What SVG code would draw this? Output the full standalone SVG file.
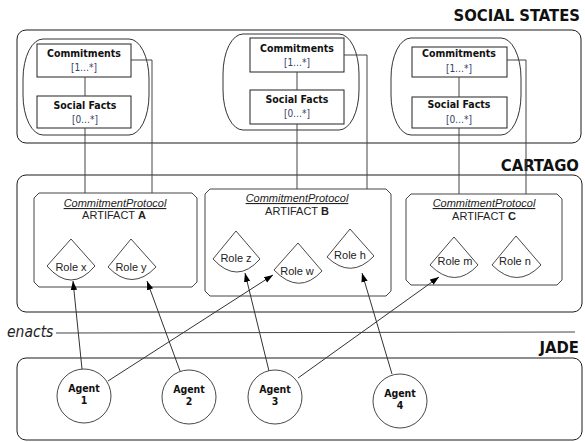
<svg xmlns="http://www.w3.org/2000/svg" width="585" height="442" viewBox="0 0 585 442">
<style>
.frame{fill:none;stroke:#1a1a1a;stroke-width:1}
.group{fill:#fff;stroke:#333;stroke-width:1}
.box{fill:#fff;stroke:#222;stroke-width:1}
.art{fill:#fff;stroke:#444;stroke-width:1}
.role{fill:#fff;stroke:#333;stroke-width:0.9}
.agent{fill:#fff;stroke:#333;stroke-width:0.9}
.link{fill:none;stroke:#444;stroke-width:1}
.arrow{fill:none;stroke:#333;stroke-width:1;marker-end:url(#ah)}
.title{font-family:"DejaVu Sans Condensed","DejaVu Sans",sans-serif;font-stretch:condensed;font-weight:bold;font-size:16.5px;fill:#111}
.bt{font-family:"DejaVu Sans Condensed","DejaVu Sans",sans-serif;font-stretch:condensed;font-weight:bold;font-size:10.5px;fill:#111;text-anchor:middle}
.card{font-family:"DejaVu Sans Condensed","DejaVu Sans",sans-serif;font-stretch:condensed;font-size:10px;fill:#34406a;text-anchor:middle}
.cp{font-family:"Liberation Sans",Arial,sans-serif;font-style:italic;font-size:11px;fill:#222;text-anchor:middle}
.an{font-family:"Liberation Sans",Arial,sans-serif;font-size:11px;fill:#222;text-anchor:middle}
.rl{font-family:"Liberation Sans",Arial,sans-serif;font-size:11px;fill:#222;text-anchor:middle}
.en{font-family:"DejaVu Sans Condensed","DejaVu Sans",sans-serif;font-stretch:condensed;font-style:italic;font-size:15.5px;fill:#222}
</style>
<defs>
<marker id="ah" markerWidth="10" markerHeight="8" refX="9" refY="4" orient="auto" markerUnits="userSpaceOnUse">
<path d="M0,0.8 L9,4 L0,7.2 Z" fill="#000"/>
</marker>
</defs>
<rect width="585" height="442" fill="#fff"/>

<g id="social-states">
<rect class="frame" x="17" y="30" width="564" height="113" rx="9"/>
<text class="title" x="580" y="21" text-anchor="end">SOCIAL STATES</text>
</g>
<g id="cartago">
<rect class="frame" x="17" y="175" width="565" height="137" rx="9"/>
<text class="title" x="579" y="171" text-anchor="end">CARTAGO</text>
</g>
<g id="jade">
<rect class="frame" x="17" y="358" width="565" height="82" rx="9"/>
<text class="title" x="579" y="353" text-anchor="end">JADE</text>
</g>

<g id="enacts">
<text class="en" x="7" y="337">enacts</text>
<line class="link" x1="56" y1="333" x2="575" y2="332"/>
</g>

<g id="state-1">
<rect class="group" x="23" y="39" width="126" height="96" rx="20" ry="40"/>
<rect class="box" x="37" y="44" width="94" height="33"/>
<text class="bt" x="84" y="57">Commitments</text>
<text class="card" x="84" y="71">[1…*]</text>
<rect class="box" x="37" y="96" width="94" height="32"/>
<text class="bt" x="85" y="109">Social Facts</text>
<text class="card" x="85" y="123">[0…*]</text>
</g>
<g id="state-2">
<rect class="group" x="223" y="34" width="136" height="96" rx="20" ry="40"/>
<rect class="box" x="250" y="38" width="94" height="34"/>
<text class="bt" x="297" y="52">Commitments</text>
<text class="card" x="297" y="66">[1…*]</text>
<rect class="box" x="250" y="90" width="94" height="34"/>
<text class="bt" x="297" y="103">Social Facts</text>
<text class="card" x="297" y="117">[0…*]</text>
</g>
<g id="state-3">
<rect class="group" x="391" y="38" width="130" height="97" rx="20" ry="40"/>
<rect class="box" x="412" y="47" width="95" height="30"/>
<text class="bt" x="459" y="57">Commitments</text>
<text class="card" x="459" y="72">[1…*]</text>
<rect class="box" x="412" y="97" width="95" height="31"/>
<text class="bt" x="459" y="108">Social Facts</text>
<text class="card" x="459" y="123">[0…*]</text>
</g>

<g id="artifact-a">
<path class="art" d="M39,193 H192 L197,198 V282 L192,287 H39 L34,282 V198 Z"/>
<text class="cp" x="115" y="207" text-decoration="underline">CommitmentProtocol</text>
<text class="an" x="114" y="219">ARTIFACT <tspan font-weight="bold">A</tspan></text>
</g>
<g id="artifact-b">
<path class="art" d="M210,189 H386 L391,194 V291 L386,296 H210 L205,291 V194 Z"/>
<text class="cp" x="297" y="202" text-decoration="underline">CommitmentProtocol</text>
<text class="an" x="297" y="215">ARTIFACT <tspan font-weight="bold">B</tspan></text>
</g>
<g id="artifact-c">
<path class="art" d="M411,194 H557 L562,199 V280 L557,285 H411 L406,280 V199 Z"/>
<text class="cp" x="484" y="207" text-decoration="underline">CommitmentProtocol</text>
<text class="an" x="484" y="220">ARTIFACT <tspan font-weight="bold">C</tspan></text>
</g>

<g id="role-x">
<path class="role" d="M71,239 L47,266 Q71,294 95,266 Z"/>
<text class="rl" x="71" y="271">Role x</text>
</g>
<g id="role-y">
<path class="role" d="M131,239 L108,267 Q132,292 156,267 Z"/>
<text class="rl" x="131" y="271">Role y</text>
</g>
<g id="role-z">
<path class="role" d="M236,231 L213,259 Q237,285 260,259 Z"/>
<text class="rl" x="236" y="262">Role z</text>
</g>
<g id="role-w">
<path class="role" d="M298,243 L274,270 Q299,296 322,271 Z"/>
<text class="rl" x="297" y="275">Role w</text>
</g>
<g id="role-h">
<path class="role" d="M350,229 L327,257 Q351,280 374,256 Z"/>
<text class="rl" x="350" y="259">Role h</text>
</g>
<g id="role-m">
<path class="role" d="M454,237 L430,265 Q455,290 478,265 Z"/>
<text class="rl" x="455" y="265">Role m</text>
</g>
<g id="role-n">
<path class="role" d="M516,236 L492,265 Q517,290 541,265 Z"/>
<text class="rl" x="515" y="265">Role n</text>
</g>

<g id="agent-1">
<circle class="agent" cx="84" cy="396" r="27"/>
<text class="bt" x="84" y="392">Agent</text>
<text class="bt" x="84" y="404">1</text>
</g>
<g id="agent-2">
<circle class="agent" cx="189" cy="397" r="27"/>
<text class="bt" x="189" y="393">Agent</text>
<text class="bt" x="189" y="405">2</text>
</g>
<g id="agent-3">
<circle class="agent" cx="275" cy="397" r="27"/>
<text class="bt" x="275" y="393">Agent</text>
<text class="bt" x="275" y="405">3</text>
</g>
<g id="agent-4">
<circle class="agent" cx="400" cy="401" r="27"/>
<text class="bt" x="400" y="397">Agent</text>
<text class="bt" x="400" y="409">4</text>
</g>

<g id="connectors">
<line class="link" x1="85" y1="77" x2="85" y2="96"/>
<line class="link" x1="85" y1="128" x2="85" y2="193"/>
<polyline class="link" points="131,60 152,60 152,193"/>
<line class="link" x1="297" y1="72" x2="297" y2="90"/>
<line class="link" x1="297" y1="124" x2="297" y2="189"/>
<polyline class="link" points="344,55 367,55 367,189"/>
<line class="link" x1="459" y1="77" x2="459" y2="97"/>
<line class="link" x1="459" y1="128" x2="459" y2="194"/>
<polyline class="link" points="507,60 526,60 526,194"/>
<line class="arrow" x1="82" y1="369" x2="73" y2="281"/>
<line class="arrow" x1="108" y1="381" x2="273" y2="275"/>
<line class="arrow" x1="180" y1="371" x2="147" y2="281"/>
<line class="arrow" x1="269" y1="371" x2="245" y2="273"/>
<line class="arrow" x1="298" y1="378" x2="439" y2="277"/>
<line class="arrow" x1="392" y1="374" x2="362" y2="273"/>
</g>
</svg>
